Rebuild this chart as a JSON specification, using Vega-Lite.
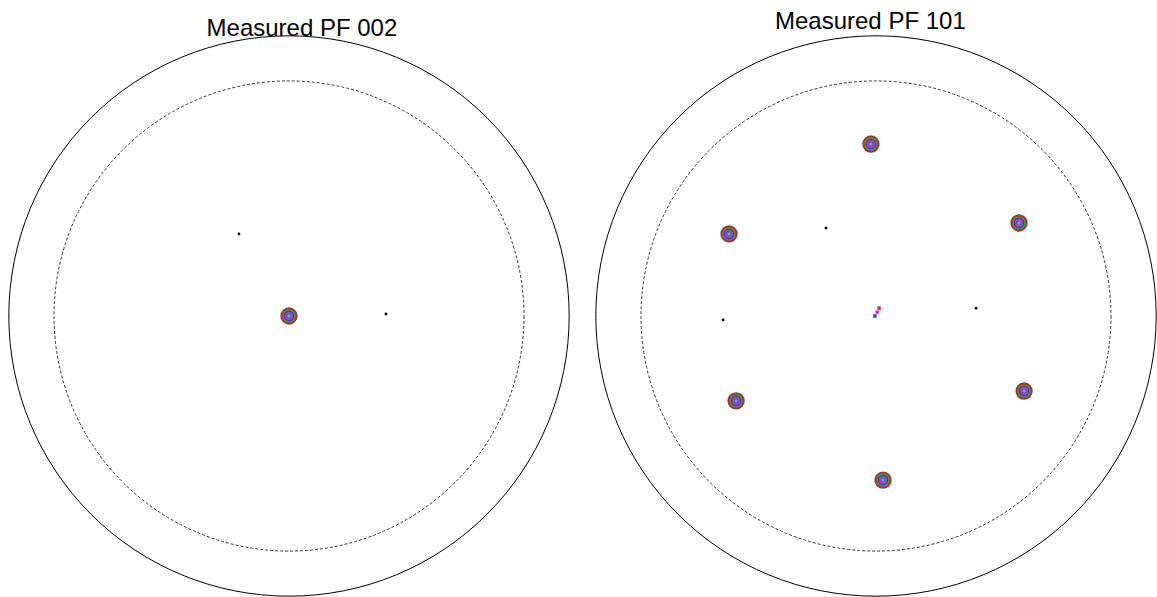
{
  "$schema": "https://vega.github.io/schema/vega-lite/v6.json",
  "autosize": {"type": "pad"},
  "padding": {"left": 6, "top": 9, "right": 0, "bottom": 0},
  "background": "white",
  "config": {"view": {"stroke": null}},
  "data": {"values": [
    {"panel": "002", "kind": "outer", "x": 0, "y": 0},
    {"panel": "002", "kind": "inner", "x": 0, "y": 0},
    {"panel": "002", "kind": "title", "x": 0.046, "y": 1.023, "label": "Measured PF 002"},
    {"panel": "002", "kind": "pole", "x": 0, "y": 0},
    {"panel": "002", "kind": "dot", "x": -0.178, "y": 0.292},
    {"panel": "002", "kind": "dot", "x": 0.345, "y": 0.007},
    {"panel": "101", "kind": "outer", "x": 0, "y": 0},
    {"panel": "101", "kind": "inner", "x": 0, "y": 0},
    {"panel": "101", "kind": "title", "x": -0.02, "y": 1.048, "label": "Measured PF 101"},
    {"panel": "101", "kind": "pole", "x": -0.018, "y": 0.612},
    {"panel": "101", "kind": "pole", "x": -0.523, "y": 0.292},
    {"panel": "101", "kind": "pole", "x": 0.509, "y": 0.331},
    {"panel": "101", "kind": "pole", "x": -0.498, "y": -0.302},
    {"panel": "101", "kind": "pole", "x": 0.527, "y": -0.267},
    {"panel": "101", "kind": "pole", "x": 0.025, "y": -0.584},
    {"panel": "101", "kind": "dot", "x": -0.178, "y": 0.313},
    {"panel": "101", "kind": "dot", "x": -0.544, "y": -0.014},
    {"panel": "101", "kind": "dot", "x": 0.356, "y": 0.028},
    {"panel": "101", "kind": "streak", "x": 0.011, "y": 0.028, "tone": "r"},
    {"panel": "101", "kind": "streak", "x": 0.004, "y": 0.014, "tone": "m"},
    {"panel": "101", "kind": "streak", "x": -0.004, "y": 0.0, "tone": "b"}
  ]},
  "facet": {"column": {"field": "panel", "type": "nominal", "header": null, "sort": ["002", "101"]}},
  "spacing": 21,
  "spec": {
    "width": 562,
    "height": 562,
    "encoding": {
      "x": {"field": "x", "type": "quantitative", "scale": {"domain": [-1, 1], "nice": false, "zero": false}, "axis": null},
      "y": {"field": "y", "type": "quantitative", "scale": {"domain": [-1, 1], "nice": false, "zero": false}, "axis": null}
    },
    "layer": [
      {"transform": [{"filter": "datum.kind == 'outer'"}],
       "mark": {"type": "point", "shape": "circle", "filled": false, "size": 314000, "stroke": "black", "strokeWidth": 1, "opacity": 1}},
      {"transform": [{"filter": "datum.kind == 'inner'"}],
       "mark": {"type": "point", "shape": "circle", "filled": false, "size": 220900, "stroke": "black", "strokeWidth": 0.8, "strokeDash": [3, 2], "opacity": 1}},
      {"transform": [{"filter": "datum.kind == 'title'"}],
       "mark": {"type": "text", "font": "Liberation Sans", "fontSize": 24, "baseline": "middle", "align": "center", "color": "black"},
       "encoding": {"text": {"field": "label"}}},
      {"transform": [{"filter": "datum.kind == 'pole'"}],
       "mark": {"type": "point", "shape": "circle", "filled": true, "size": 300, "fill": "#5a4a58", "strokeWidth": 0, "opacity": 1}},
      {"transform": [{"filter": "datum.kind == 'pole'"}],
       "mark": {"type": "point", "shape": "circle", "filled": false, "size": 200, "stroke": "#e0201e", "strokeWidth": 1.6, "opacity": 1}},
      {"transform": [{"filter": "datum.kind == 'pole'"}],
       "mark": {"type": "point", "shape": "circle", "filled": false, "size": 132, "stroke": "#2fb02a", "strokeWidth": 1.6, "opacity": 1}},
      {"transform": [{"filter": "datum.kind == 'pole'"}],
       "mark": {"type": "point", "shape": "circle", "filled": false, "size": 80, "stroke": "#2a3ee0", "strokeWidth": 1.6, "opacity": 1}},
      {"transform": [{"filter": "datum.kind == 'pole'"}],
       "mark": {"type": "point", "shape": "circle", "filled": false, "size": 40, "stroke": "#d030d0", "strokeWidth": 1.6, "opacity": 1}},
      {"transform": [{"filter": "datum.kind == 'pole'"}],
       "mark": {"type": "point", "shape": "circle", "filled": true, "size": 12, "fill": "#30c8c8", "strokeWidth": 0, "opacity": 1}},
      {"transform": [{"filter": "datum.kind == 'dot'"}],
       "mark": {"type": "point", "shape": "circle", "filled": true, "size": 8, "fill": "black", "strokeWidth": 0, "opacity": 1}},
      {"transform": [{"filter": "datum.kind == 'streak'"}],
       "mark": {"type": "point", "shape": "square", "filled": true, "size": 12, "strokeWidth": 0, "opacity": 1},
       "encoding": {"color": {"field": "tone", "type": "nominal", "legend": null, "scale": {"domain": ["r", "m", "b"], "range": ["#e0201e", "#d030d0", "#2a3ee0"]}}}}
    ]
  }
}
